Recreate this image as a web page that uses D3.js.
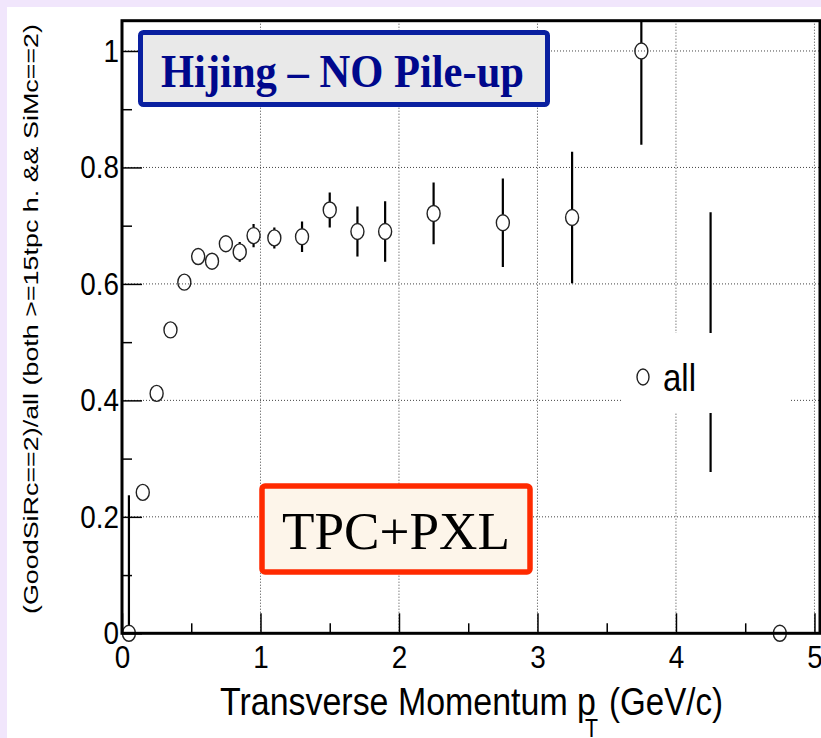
<!DOCTYPE html>
<html>
<head>
<meta charset="utf-8">
<script src="https://cdn.jsdelivr.net/npm/d3@7"></script>
<style>
  body { margin: 0; background: #fff; }
  svg { display: block; }
</style>
</head>
<body>
<svg width="821" height="738"></svg>
<script>
// efficiency vs pT
var ptBins = [0.05, 0.15, 0.25, 0.35, 0.45, 0.55, 0.65, 0.75, 0.85, 0.95, 1.1, 1.3, 1.5, 1.7, 1.9, 2.25, 2.75, 3.25, 3.75, 4.25, 4.75];
var effValues = [0, 0.242, 0.412, 0.521, 0.603, 0.647, 0.639, 0.669, 0.655, 0.683, 0.679, 0.681, 0.727, 0.690, 0.690, 0.721, 0.705, 0.714, 1.0, 0.5, 0];
var effErrors = [0.237, 0.008, 0.010, 0.011, 0.011, 0.012, 0.012, 0.012, 0.017, 0.020, 0.018, 0.026, 0.030, 0.043, 0.052, 0.053, 0.076, 0.113, 0.161, 0.223, 0];

var xMajor = [0, 1, 2, 3, 4, 5];
var xMinor = [0.5, 1.5, 2.5, 3.5, 4.5];
var yMajor = [0, 0.2, 0.4, 0.6, 0.8, 1];
var yMinor = [0.1, 0.3, 0.5, 0.7, 0.9];

var xTitle = "Transverse Momentum p";
var xTitleSub = "T";
var xTitleUnit = "(GeV/c)";
var yTitle = "(GoodSiRc==2)/all (both >=15tpc h. && SiMc==2)";
var legendLabel = "all";
var topLabel = "Hijing \u2013 NO Pile-up";
var bottomLabel = "TPC+PXL";

var sans = "'Liberation Sans', Arial, Helvetica, sans-serif";
var serif = "'Liberation Serif', 'Times New Roman', serif";

var svg = d3.select("svg");

// frame in pixels (window.top is taken, so keep these in an object)
var frame = { left: 122, right: 820, top: 20.7, bottom: 633.3 };

var x = d3.scaleLinear().domain([0, 5.04]).range([frame.left, frame.right]);
var y = d3.scaleLinear().domain([0, 1.052]).range([frame.bottom, frame.top]);

// page background: lavender edge, white panel
svg.append("rect").attr("width", 821).attr("height", 738).attr("fill", "#f1e6fc");
svg.append("rect").attr("x", 7).attr("y", 7).attr("width", 814).attr("height", 731).attr("fill", "#fff");

svg.append("defs").append("clipPath").attr("id", "frameclip")
  .append("rect").attr("x", frame.left).attr("y", frame.top)
  .attr("width", frame.right - frame.left).attr("height", frame.bottom - frame.top);

var g = {
  grid: svg.append("g").attr("id", "grid"),
  errors: svg.append("g").attr("id", "errors").attr("clip-path", "url(#frameclip)"),
  markers: svg.append("g").attr("id", "markers"),
  axes: svg.append("g").attr("id", "axes"),
  legend: svg.append("g").attr("id", "legend"),
  labels: svg.append("g").attr("id", "labels")
};

// squeeze text horizontally, the source glyphs look narrow
function squeeze(sel, k) {
  sel.each(function() {
    var w = this.getComputedTextLength();
    d3.select(this).attr("textLength", w * k).attr("lengthAdjust", "spacingAndGlyphs");
  });
}

// dotted grid
g.grid.selectAll("line.vgrid")
  .data(xMajor.filter(function(d) { return d > 0; }))
  .enter().append("line")
  .attr("class", "vgrid")
  .attr("x1", function(d) { return x(d); }).attr("x2", function(d) { return x(d); })
  .attr("y1", frame.top).attr("y2", frame.bottom);

g.grid.selectAll("line.hgrid")
  .data(yMajor.filter(function(d) { return d > 0; }))
  .enter().append("line")
  .attr("class", "hgrid")
  .attr("x1", frame.left).attr("x2", frame.right)
  .attr("y1", function(d) { return y(d); }).attr("y2", function(d) { return y(d); });

g.grid.selectAll("line")
  .attr("stroke", "#444")
  .attr("stroke-width", 1)
  .attr("stroke-dasharray", "1,2");

var points = ptBins.map(function(p, i) {
  return { pt: p, eff: effValues[i], err: effErrors[i] };
});

var rx = 6.5, ry = 8;

// error bars stop at the marker edge
points.forEach(function(d) {
  var cx = x(d.pt), cy = y(d.eff);
  var hi = y(d.eff + d.err), lo = y(d.eff - d.err);
  if (hi < cy - ry) {
    g.errors.append("line").attr("x1", cx).attr("x2", cx).attr("y1", hi).attr("y2", cy - ry);
  }
  if (lo > cy + ry) {
    g.errors.append("line").attr("x1", cx).attr("x2", cx).attr("y1", cy + ry).attr("y2", lo);
  }
});
g.errors.selectAll("line").attr("stroke", "#000").attr("stroke-width", 2.2);

g.markers.selectAll("ellipse")
  .data(points)
  .enter().append("ellipse")
  .attr("cx", function(d) { return x(d.pt); })
  .attr("cy", function(d) { return y(d.eff); })
  .attr("rx", rx).attr("ry", ry)
  .attr("fill", "none")
  .attr("stroke", "#222")
  .attr("stroke-width", 1.4);

// axes: ticks point inward
var xAxis = g.axes.append("g").attr("transform", "translate(0," + frame.bottom + ")")
  .call(d3.axisBottom(x).tickValues(xMajor).tickSize(-20).tickPadding(12).tickFormat(d3.format("d")));
g.axes.append("g").attr("transform", "translate(0," + frame.bottom + ")")
  .call(d3.axisBottom(x).tickValues(xMinor).tickSize(-10).tickFormat(""));
var yAxis = g.axes.append("g").attr("transform", "translate(" + frame.left + ",0)")
  .call(d3.axisLeft(y).tickValues(yMajor).tickSize(-20).tickPadding(3)
    .tickFormat(function(d) { return d === 0 || d === 1 ? String(d) : d.toFixed(1); }));
g.axes.append("g").attr("transform", "translate(" + frame.left + ",0)")
  .call(d3.axisLeft(y).tickValues(yMinor).tickSize(-10).tickFormat(""));

g.axes.selectAll(".domain").remove();
g.axes.selectAll(".tick line").attr("stroke", "#000").attr("stroke-width", 1.5);
g.axes.selectAll(".tick text")
  .attr("fill", "#000")
  .style("font-family", sans)
  .style("font-size", "32px");
squeeze(xAxis.selectAll(".tick text"), 0.87);
squeeze(yAxis.selectAll(".tick text"), 0.87);

// frame
g.axes.append("rect")
  .attr("x", frame.left).attr("y", frame.top)
  .attr("width", frame.right - frame.left).attr("height", frame.bottom - frame.top)
  .attr("fill", "none").attr("stroke", "#000").attr("stroke-width", 3);

// axis titles
g.axes.append("text").attr("x", 220).attr("y", 715)
  .style("font-family", sans).style("font-size", "39px").text(xTitle)
  .attr("textLength", 376).attr("lengthAdjust", "spacingAndGlyphs");
g.axes.append("text").attr("x", 585).attr("y", 737)
  .style("font-family", sans).style("font-size", "25px").text(xTitleSub)
  .attr("textLength", 13).attr("lengthAdjust", "spacingAndGlyphs");
g.axes.append("text").attr("x", 609).attr("y", 715)
  .style("font-family", sans).style("font-size", "39px").text(xTitleUnit)
  .attr("textLength", 114).attr("lengthAdjust", "spacingAndGlyphs");

g.axes.append("text")
  .attr("transform", "translate(37.5,319) rotate(-90)")
  .attr("text-anchor", "middle")
  .style("font-family", sans).style("font-size", "21px")
  .text(yTitle)
  .attr("textLength", 590).attr("lengthAdjust", "spacingAndGlyphs");

// legend: plain white box over the plot
g.legend.append("rect").attr("x", 623).attr("y", 333).attr("width", 166).attr("height", 80).attr("fill", "#fff");
g.legend.append("ellipse").attr("cx", 643).attr("cy", 377).attr("rx", 6).attr("ry", 8)
  .attr("fill", "none").attr("stroke", "#222").attr("stroke-width", 1.4);
g.legend.append("text").attr("x", 663).attr("y", 391)
  .style("font-family", sans).style("font-size", "39px").text(legendLabel)
  .attr("textLength", 33).attr("lengthAdjust", "spacingAndGlyphs");

// label boxes
g.labels.append("rect")
  .attr("x", 140.5).attr("y", 32.5).attr("width", 407).attr("height", 72).attr("rx", 3)
  .attr("fill", "#e9e9e9").attr("stroke", "#0a20a0").attr("stroke-width", 5);
g.labels.append("text").attr("x", 161).attr("y", 86.5)
  .attr("fill", "#00088c")
  .style("font-family", serif).style("font-size", "47px").style("font-weight", "bold")
  .text(topLabel)
  .attr("textLength", 363).attr("lengthAdjust", "spacingAndGlyphs");

g.labels.append("rect")
  .attr("x", 262).attr("y", 486).attr("width", 268).attr("height", 86).attr("rx", 3)
  .attr("fill", "#fdf5ea").attr("stroke", "#ff2a00").attr("stroke-width", 5.5);
g.labels.append("text").attr("x", 282).attr("y", 549)
  .attr("fill", "#000")
  .style("font-family", serif).style("font-size", "52px")
  .text(bottomLabel)
  .attr("textLength", 228).attr("lengthAdjust", "spacingAndGlyphs");
</script>
</body>
</html>
